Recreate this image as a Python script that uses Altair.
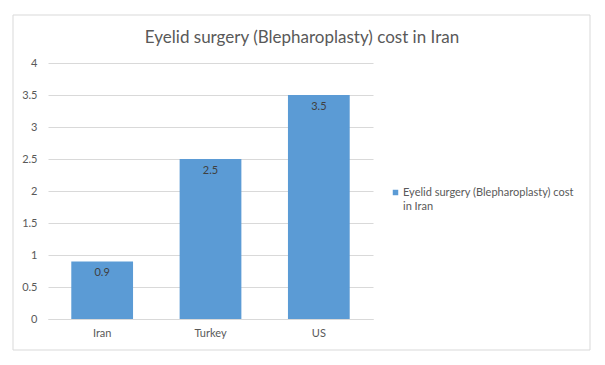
import altair as alt
import pandas as pd

categories = ["Iran", "Turkey", "US"]
values = [0.9, 2.5, 3.5]
value_labels = ["0.9", "2.5", "3.5"]
series_name = "Eyelid surgery (Blepharoplasty) cost in Iran"
legend_lines = ["Eyelid surgery (Blepharoplasty) cost", "in Iran"]
y_ticks = [0.0, 0.5, 1.0, 1.5, 2.0, 2.5, 3.0, 3.5, 4.0]

df = pd.DataFrame({"country": categories, "cost": values, "label": value_labels})
FONT = "Lato"
GRAY = "#595959"

x = alt.X("country:N", sort=categories, title=None,
          scale=alt.Scale(paddingInner=0.43, paddingOuter=0.215),
          axis=alt.Axis(labelAngle=0, ticks=False, domainColor="#d9d9d9",
                        labelColor=GRAY, labelFontSize=11, labelFont=FONT, labelPadding=8))
y = alt.Y("cost:Q", title=None,
          scale=alt.Scale(domain=[0, 4], nice=False),
          axis=alt.Axis(values=y_ticks, format=".1~f", domain=False, ticks=False, gridColor="#d9d9d9",
                        labelOverlap=False, labelColor=GRAY, labelFontSize=11, labelFont=FONT,
                        labelPadding=11))

base = alt.Chart(df)
bars = base.mark_bar(color="#5B9BD5").encode(x=x, y=y)
labels = base.mark_text(dy=12, fontSize=11, font=FONT, color="#404040", baseline="middle").encode(
    x=x, y=y, text="label:N")

border = alt.Chart(pd.DataFrame({"a": [0]})).mark_rect(
    fill=None, stroke="#d9d9d9", strokeWidth=1).encode(
    x=alt.value(-35), x2=alt.value(542), y=alt.value(-48), y2=alt.value(287))

title = alt.Chart(pd.DataFrame({"name": [series_name]})).mark_text(
    align="center", baseline="middle", fontSize=17, font=FONT, color=GRAY).encode(
    x=alt.value(254), y=alt.value(-25), text="name:N")

leg_sym = alt.Chart(pd.DataFrame({"name": [series_name]})).mark_square(
    color="#5B9BD5", size=30, opacity=1).encode(x=alt.value(347.5), y=alt.value(129.5))
leg_txt = alt.Chart(pd.DataFrame({"name": [series_name]})).mark_text(
    align="left", baseline="middle", fontSize=11, font=FONT, color=GRAY, lineHeight=14,
    text=legend_lines).encode(x=alt.value(355), y=alt.value(130))

chart = alt.layer(bars, labels, border, title, leg_sym, leg_txt).properties(
    width=325, height=256,
    autosize=alt.AutoSizeParams(type="none"),
    padding={"left": 40, "top": 55, "right": 224, "bottom": 38},
).configure_view(stroke=None)

chart.save("out.html", embed_options={"renderer": "svg", "actions": False})
